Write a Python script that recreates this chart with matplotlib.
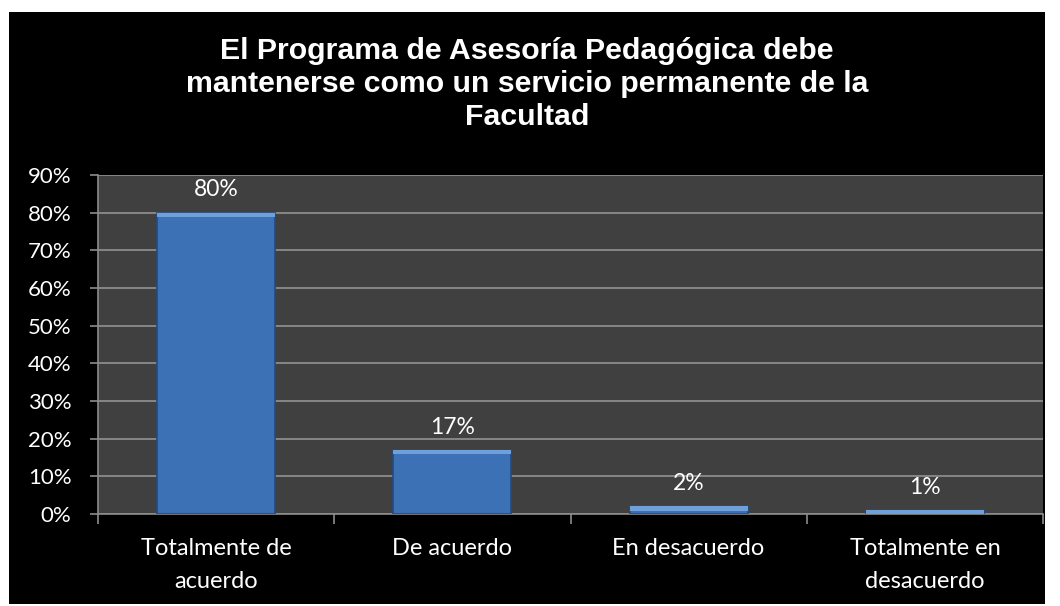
import matplotlib.pyplot as plt
from matplotlib.patches import Rectangle
from matplotlib.ticker import FixedLocator

categories = ["Totalmente de\nacuerdo", "De acuerdo", "En desacuerdo", "Totalmente en\ndesacuerdo"]
values = [80, 17, 2, 1]
y_ticks = [0, 10, 20, 30, 40, 50, 60, 70, 80, 90]
title = ("El Programa de Asesoría Pedagógica debe\n"
         "mantenerse como un servicio permanente de la\n"
         "Facultad")

label_font = ["Lato", "DejaVu Sans"]

fig = plt.figure(figsize=(10.6, 6.06), dpi=100)
fig.patch.set_facecolor("white")
# black chart frame
fig.patches.append(Rectangle((9 / 1060, 2 / 606), 1036 / 1060, 592 / 606,
                             transform=fig.transFigure, facecolor="black",
                             edgecolor="none", zorder=-10))

ax = fig.add_axes([98 / 1060, 1 - 514 / 606, 945 / 1060, 339 / 606])
ax.set_zorder(1)
ax.set_facecolor("#404040")

x = range(len(categories))
bars = ax.bar(x, values, width=0.5, color="#3d71b6", edgecolor="#244a80",
              linewidth=1.2, zorder=3)
# lighter bevel on top of each bar
ax.bar(x, [min(v, 1.2) for v in values], bottom=[v - min(v, 1.2) for v in values],
       width=0.5, color="#6fa0dc", edgecolor="none", zorder=4)

for xi, v in zip(x, values):
    ax.text(xi, v + 3.3, f"{v}%", ha="center", va="bottom", color="white",
            fontsize=16.5, family=label_font, zorder=5)

ax.set_xlim(-0.5, len(categories) - 0.5)
ax.set_ylim(0, 90)
ax.set_yticks(y_ticks)
ax.set_yticklabels([f"{t}%" for t in y_ticks])
ax.yaxis.grid(True, color="#8c8c8c", linewidth=1.3, zorder=1)
ax.set_axisbelow(True)

ax.set_xticks(list(x))
ax.set_xticklabels(categories)
ax.xaxis.set_minor_locator(FixedLocator([i - 0.5 for i in range(len(categories) + 1)]))
ax.tick_params(axis="x", which="major", length=0, pad=17)
ax.tick_params(axis="x", which="minor", length=7, color="#8c8c8c", width=1.2)
ax.tick_params(axis="y", length=6, color="#8c8c8c", width=1.2, pad=13)

for lbl in ax.get_xticklabels():
    lbl.set_color("white")
    lbl.set_fontsize(17)
    lbl.set_family(label_font)
    lbl.set_linespacing(1.7)
for lbl in ax.get_yticklabels():
    lbl.set_color("white")
    lbl.set_fontsize(16)
    lbl.set_family(label_font)

for side in ["top", "right"]:
    ax.spines[side].set_visible(False)
for side in ["left", "bottom"]:
    ax.spines[side].set_color("#8c8c8c")
    ax.spines[side].set_linewidth(1.2)

fig.text(527 / 1060, 1 - 84 / 606, title, ha="center", va="center", color="white",
         fontsize=21.8, fontweight="bold", family=["Liberation Sans", "DejaVu Sans"],
         linespacing=1.24, zorder=2)

fig.savefig("out.png", dpi=100, facecolor=fig.get_facecolor())
